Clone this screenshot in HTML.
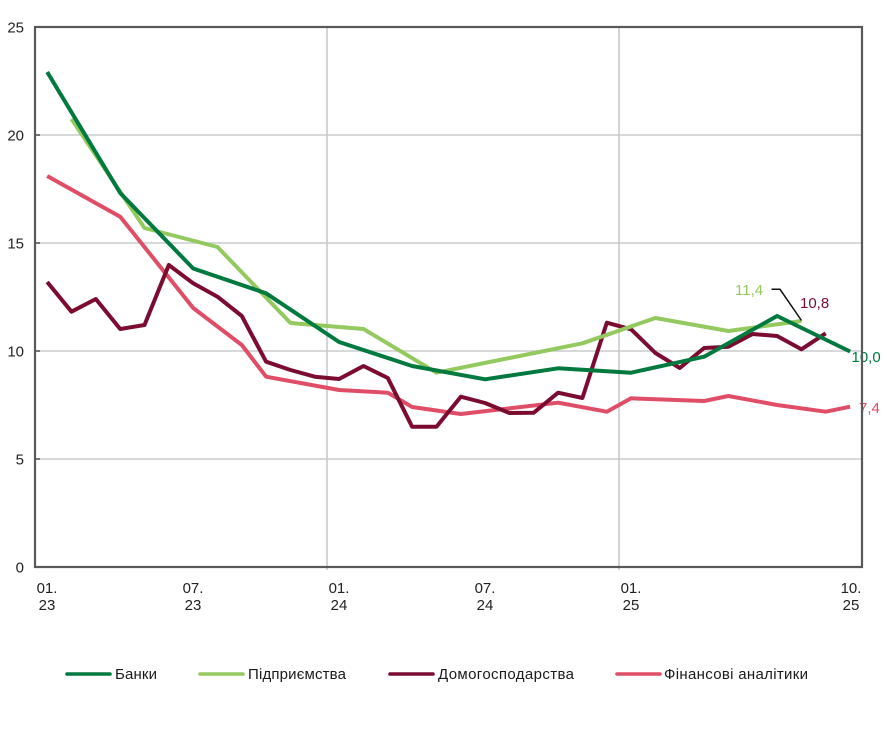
<!DOCTYPE html>
<html><head><meta charset="utf-8">
<style>
html,body{margin:0;padding:0;background:#fff;}
svg{display:block;}
text{font-family:"Liberation Sans",Arial,sans-serif;}
</style></head>
<body>
<svg width="890" height="737" viewBox="0 0 890 737" xmlns="http://www.w3.org/2000/svg">
<rect width="890" height="737" fill="#fff"/>
<g stroke="#c8cbce" stroke-width="1.6" fill="none">
<line x1="35" y1="135" x2="862" y2="135"/>
<line x1="35" y1="243" x2="862" y2="243"/>
<line x1="35" y1="351" x2="862" y2="351"/>
<line x1="35" y1="459" x2="862" y2="459"/>
<line x1="327" y1="27" x2="327" y2="570"/>
<line x1="619" y1="27" x2="619" y2="570"/>
</g>
<g stroke="#595959" stroke-width="1.6">
<line x1="35" y1="135" x2="40" y2="135"/>
<line x1="35" y1="243" x2="40" y2="243"/>
<line x1="35" y1="351" x2="40" y2="351"/>
<line x1="35" y1="459" x2="40" y2="459"/>
</g>
<g font-size="15" fill="#222" text-anchor="end">
<text x="24" y="32.5">25</text>
<text x="24" y="140.5">20</text>
<text x="24" y="248.5">15</text>
<text x="24" y="356.5">10</text>
<text x="24" y="464.5">5</text>
<text x="24" y="572.5">0</text>
</g>
<g font-size="15" fill="#222" text-anchor="middle">
<text x="47" y="593">01.</text><text x="47" y="610">23</text>
<text x="193" y="593">07.</text><text x="193" y="610">23</text>
<text x="339" y="593">01.</text><text x="339" y="610">24</text>
<text x="485" y="593">07.</text><text x="485" y="610">24</text>
<text x="631" y="593">01.</text><text x="631" y="610">25</text>
<text x="851" y="593">10.</text><text x="851" y="610">25</text>
</g>
<g fill="none" stroke-width="4" stroke-linejoin="round" stroke-linecap="butt">
<polyline stroke="#e04d66" points="47.2,176 120.2,216.7 193.2,308 241.8,345 266.1,376.7 339.1,390 387.8,392.7 412.1,407 460.8,414 558.1,402.7 606.8,411.7 631.1,398.3 704.1,401 728.4,396 777.1,405 825.7,411.7 850.1,406.7"/>
<polyline stroke="#7b0c30" points="47.2,282 71.5,311.7 95.8,299 120.2,329 144.5,325 168.8,265 193.2,283.3 217.5,296.7 241.8,316 266.1,361.7 290.5,370 314.8,376.7 339.1,379 363.5,366 387.8,378 412.1,426.7 436.5,426.7 460.8,396.7 485.1,403 509.4,413 533.8,412.7 558.1,392.7 582.4,398 606.8,322.7 631.1,329.3 655.4,353 679.8,368 704.1,348 728.4,346.7 752.7,334 777.1,336 801.4,349.3 825.7,333.3"/>
<polyline stroke="#93c95e" points="71.5,119 144.5,228 217.5,247 290.5,323 363.5,329 436.5,372.7 582.4,343.3 655.4,318 728.4,331 801.4,321"/>
<polyline stroke="#00793f" points="47.2,72 120.2,193 193.2,268.5 266.1,293.3 339.1,342 412.1,366 485.1,379.3 558.1,368.3 631.1,372.7 704.1,356.7 777.1,316 850.1,351.5"/>
</g>
<polyline fill="none" stroke="#111" stroke-width="1.5" points="771.5,289.3 780,289.3 801.5,320.5"/>
<g font-size="15">
<text x="735" y="295" fill="#93c95e">11,4</text>
<text x="800" y="308" fill="#7b0c30">10,8</text>
<text x="851.5" y="362" fill="#00793f">10,0</text>
<text x="859" y="413" fill="#e04d66">7,4</text>
</g>
<rect x="35" y="27" width="827" height="540" fill="none" stroke="#595959" stroke-width="2.2"/>
<g stroke-width="3.6" stroke-linecap="round">
<line x1="67" y1="674" x2="110" y2="674" stroke="#00793f"/>
<line x1="200" y1="674" x2="243" y2="674" stroke="#93c95e"/>
<line x1="390" y1="674" x2="433" y2="674" stroke="#7b0c30"/>
<line x1="617" y1="674" x2="660" y2="674" stroke="#e04d66"/>
</g>
<g font-size="15" fill="#1a1a1a">
<text x="115" y="679" textLength="42">Банки</text>
<text x="248" y="679" textLength="98">Підприємства</text>
<text x="438" y="679" textLength="136">Домогосподарства</text>
<text x="664" y="679" textLength="144">Фінансові аналітики</text>
</g>
</svg>
</body></html>
